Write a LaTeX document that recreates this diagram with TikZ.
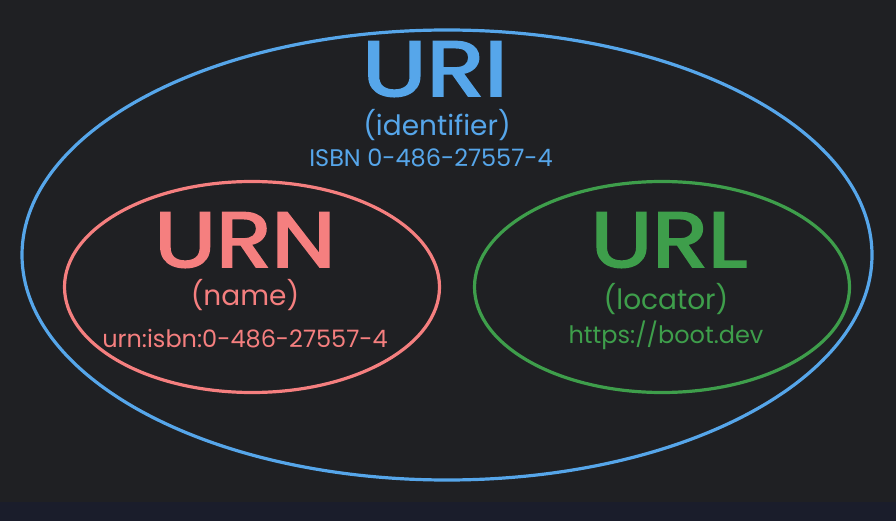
\documentclass[tikz,border=0pt]{standalone}
\usepackage{fontspec}
\setmainfont{Poppins}
\newfontfamily\titlefont[FakeBold=2.5]{Poppins}
\usetikzlibrary{shapes.geometric}

\definecolor{bgdark}{HTML}{1F2023}
\definecolor{bgstrip}{HTML}{1A1D2B}
\definecolor{uriblue}{HTML}{56A6EA}
\definecolor{urnred}{HTML}{F57F7F}
\definecolor{urlgreen}{HTML}{3E9E4B}

\begin{document}
\begin{tikzpicture}[x=1pt,y=-1pt,
    setline/.style={draw, ellipse, line width=3.2pt, inner sep=0pt},
    bigtext/.style={anchor=base, inner sep=0pt, text depth=0pt, font=\fontsize{78}{78}\titlefont},
    midtext/.style={anchor=base, inner sep=0pt, text depth=0pt, font=\fontsize{28}{28}\selectfont},
    smalltext/.style={anchor=base, inner sep=0pt, font=\fontsize{24}{24}\selectfont}]
    % background
    \fill[bgdark] (0,0) rectangle (896,502);
    \fill[bgstrip] (0,502) rectangle (896,521);
    \useasboundingbox (0,0) rectangle (896,521);
    % sets
    \node[setline, uriblue, minimum width=850, minimum height=450] (uri) at (447,255) {};
    \node[setline, urnred, minimum width=375, minimum height=211] (urn) at (252,287) {};
    \node[setline, urlgreen, minimum width=375, minimum height=211] (url) at (662,287) {};
    % labels
    \node[bigtext, uriblue] (urititle) at (435,96) {\scalebox{1.22}[1]{URI}};
    \node[midtext, uriblue] (uriname) at (437,136) {(identifier)};
    \node[smalltext, uriblue] (uriex) at (431,167) {ISBN 0-486-27557-4};
    \node[bigtext, urnred] (urntitle) at (245,267) {\scalebox{1.17}[1]{URN}};
    \node[midtext, urnred] (urnname) at (245,305) {(name)};
    \node[smalltext, urnred] (urnex) at (245,347) {urn:isbn:0-486-27557-4};
    \node[bigtext, urlgreen] (urltitle) at (669,267) {\scalebox{1.17}[1]{URL}};
    \node[midtext, urlgreen] (urlname) at (666,309) {(locator)};
    \node[smalltext, urlgreen] (urlex) at (666,343) {https://boot.dev};
\end{tikzpicture}
\end{document}
